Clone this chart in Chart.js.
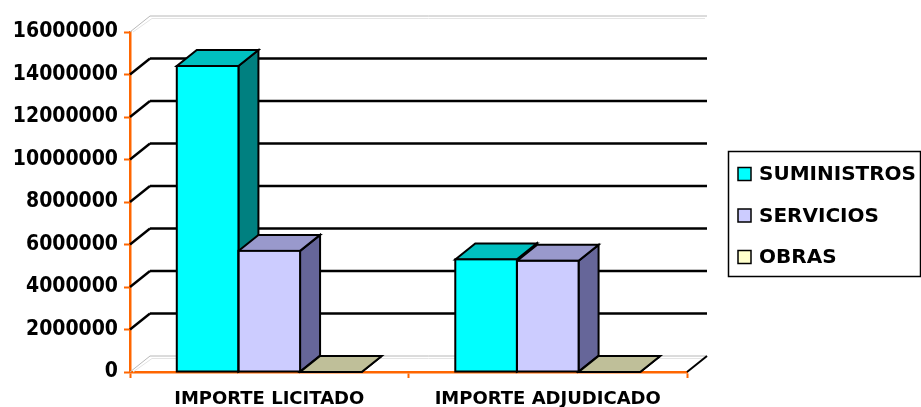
<!DOCTYPE html>
<html>
<head>
<meta charset="utf-8">
<script src="https://cdn.jsdelivr.net/npm/chart.js@4.4.1/dist/chart.umd.min.js"></script>
<style>
  html, body { margin: 0; padding: 0; background: #fff; }
  #wrap { width: 921px; height: 407px; }
</style>
</head>
<body>
<div id="wrap"><canvas id="chart" width="921" height="407"></canvas></div>
<script>
const categories = ['IMPORTE LICITADO', 'IMPORTE ADJUDICADO'];
const seriesNames = ['SUMINISTROS', 'SERVICIOS', 'OBRAS'];
const suministros = [14400000, 5300000];
const servicios = [5700000, 5230000];
const obras = [0, 0];
const yTickLabels = ['0', '2000000', '4000000', '6000000', '8000000', '10000000', '12000000', '14000000', '16000000'];

const ORANGE = '#FF6600';
const FONT = 'DejaVu Sans';
const FONT_C = 'DejaVu Sans Condensed';
// depth of the 3d effect
const DX = 20, DY = -16;

const frontCol = ['#00FFFF', '#CCCCFF', '#FFFFCC'];
const topCol = ['#00BFBF', '#9999CC', '#BFBF99'];
const sideCol = ['#008080', '#666699', '#808066'];

function poly(ctx, pts, fill) {
    ctx.beginPath();
    ctx.moveTo(pts[0][0], pts[0][1]);
    for (let i = 1; i < pts.length; i++) ctx.lineTo(pts[i][0], pts[i][1]);
    ctx.closePath();
    ctx.fillStyle = fill;
    ctx.fill();
    ctx.stroke();
}

const walls = {
    id: 'walls',
    beforeDatasetsDraw(chart) {
        const ctx = chart.ctx;
        const a = chart.chartArea;
        const ys = chart.scales.y;
        ctx.save();
        // back wall + side wall gridlines
        ys.ticks.forEach((t, i) => {
            const y = ys.getPixelForValue(t.value);
            const edge = (i === 0 || i === ys.ticks.length - 1);
            if (edge) {
                ctx.lineWidth = 1;
                ctx.strokeStyle = '#B8B8B8';
                ctx.beginPath();
                ctx.moveTo(a.left, y); ctx.lineTo(a.left + DX, y + DY); ctx.lineTo(a.right + DX, y + DY);
                ctx.stroke();
                ctx.strokeStyle = '#E4E4E4';
                ctx.beginPath();
                ctx.moveTo(a.left + 3, y); ctx.lineTo(a.left + DX + 2, y + DY + 2.5); ctx.lineTo(a.right + DX - 2, y + DY + 2.5);
                ctx.stroke();
            } else {
                ctx.lineWidth = 2.5;
                ctx.strokeStyle = '#000';
                ctx.beginPath();
                ctx.moveTo(a.left, y); ctx.lineTo(a.left + DX, y + DY);
                ctx.stroke();
                ctx.beginPath();
                ctx.moveTo(a.left + DX, y + DY); ctx.lineTo(a.right + DX, y + DY);
                ctx.stroke();
            }
        });
        // right floor edge
        ctx.lineWidth = 2;
        ctx.strokeStyle = '#000';
        ctx.beginPath();
        ctx.moveTo(a.right, a.bottom); ctx.lineTo(a.right + DX, a.bottom + DY);
        ctx.stroke();

        // top and side faces of the bars
        ctx.lineWidth = 2;
        ctx.lineJoin = 'miter';
        const n = chart.data.labels.length;
        for (let c = 0; c < n; c++) {
            chart.data.datasets.forEach((ds, d) => {
                const bar = chart.getDatasetMeta(d).data[c];
                const p = bar.getProps(['x', 'y', 'base', 'width'], true);
                const l = p.x - p.width / 2, r = p.x + p.width / 2;
                const t = Math.min(p.y, p.base), b = Math.max(p.y, p.base);
                poly(ctx, [[r, t], [r + DX, t + DY], [r + DX, b + DY], [r, b]], sideCol[d]);
                poly(ctx, [[l, t], [r, t], [r + DX, t + DY], [l + DX, t + DY]], topCol[d]);
            });
        }
        ctx.restore();
    },
    afterDatasetsDraw(chart) {
        const ctx = chart.ctx;
        ctx.save();
        ctx.lineWidth = 2;
        ctx.strokeStyle = '#000';
        chart.data.datasets.forEach((ds, d) => {
            chart.getDatasetMeta(d).data.forEach(bar => {
                const p = bar.getProps(['x', 'y', 'base', 'width'], true);
                const h = Math.abs(p.base - p.y);
                if (h < 0.5) return;
                ctx.strokeRect(p.x - p.width / 2, Math.min(p.y, p.base), p.width, h);
            });
        });
        ctx.restore();
    },
    afterDraw(chart) {
        const ctx = chart.ctx;
        ctx.save();
        const lx = 728.5, ly = 151.5, lw = 192, lh = 125;
        ctx.lineWidth = 1.5;
        ctx.strokeStyle = '#000';
        ctx.strokeRect(lx, ly, lw, lh);
        ctx.font = 'bold 20px "' + FONT + '"';
        ctx.textBaseline = 'middle';
        ctx.textAlign = 'left';
        chart.data.datasets.forEach((ds, i) => {
            const cy = ly + 22.5 + i * 41.5;
            ctx.fillStyle = ds.backgroundColor;
            ctx.fillRect(738, cy - 6.5, 13, 13);
            ctx.lineWidth = 1.5;
            ctx.strokeRect(738, cy - 6.5, 13, 13);
            ctx.fillStyle = '#000';
            ctx.fillText(ds.label, 759, cy + 1);
        });
        ctx.restore();
    }
};

new Chart(document.getElementById('chart'), {
    type: 'bar',
    data: {
        labels: categories,
        datasets: [
            { label: seriesNames[0], data: suministros, backgroundColor: frontCol[0] },
            { label: seriesNames[1], data: servicios, backgroundColor: frontCol[1] },
            { label: seriesNames[2], data: obras, backgroundColor: frontCol[2] }
        ]
    },
    options: {
        responsive: false,
        animation: false,
        events: [],
        layout: { padding: { left: 10, top: 32, right: 234, bottom: 0 } },
        datasets: {
            bar: { borderWidth: 0, categoryPercentage: 0.664, barPercentage: 1 }
        },
        plugins: {
            legend: { display: false },
            tooltip: { enabled: false }
        },
        scales: {
            x: {
                z: 1,
                grid: { offset: true, drawOnChartArea: false, tickLength: 6, tickColor: ORANGE, tickWidth: 2 },
                border: { color: ORANGE, width: 2.5 },
                ticks: { color: '#000', font: { family: FONT, size: 18, weight: 'bold' }, padding: 11 },
                afterFit: s => { s.height = 35; }
            },
            y: {
                min: 0,
                max: 16000000,
                z: 1,
                grid: { drawOnChartArea: false, tickLength: 6, tickColor: ORANGE, tickWidth: 2 },
                border: { color: ORANGE, width: 2.5 },
                ticks: {
                    stepSize: 2000000,
                    color: '#000',
                    font: { family: FONT_C, size: 21, weight: 'bold' },
                    padding: 6,
                    callback: (v, i) => yTickLabels[i]
                },
                afterFit: s => { s.width = 120; }
            }
        }
    },
    plugins: [walls]
});
</script>
</body>
</html>
